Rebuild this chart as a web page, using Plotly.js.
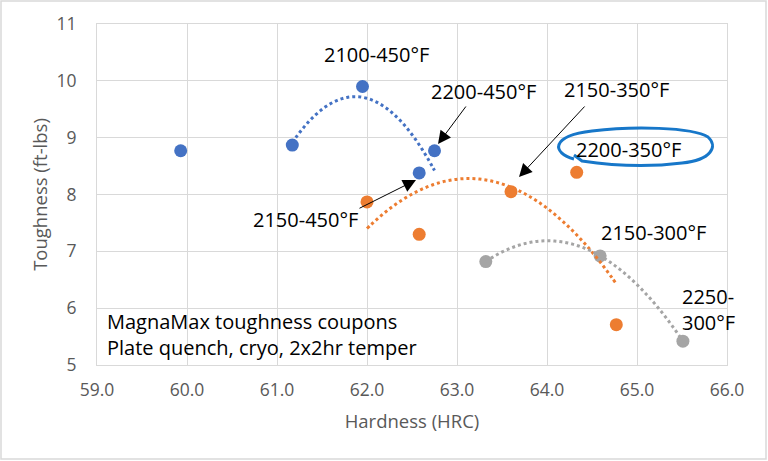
<!DOCTYPE html>
<html>
<head>
<meta charset="utf-8">
<script src="https://cdn.plot.ly/plotly-3.0.1.min.js"></script>
<style>
  html, body { margin: 0; padding: 0; background: #fff; }
  #chart { width: 768px; height: 461px; }
</style>
</head>
<body>
<div id="chart"></div>
<script>
// hardness (HRC) / toughness (ft-lbs)
const blueX = [61.17, 61.95, 62.58, 62.75];
const blueY = [8.87, 9.90, 8.38, 8.77];
const blueOutlierX = [59.93];
const blueOutlierY = [8.77];
const orangeX = [62.0, 62.58, 63.6, 64.33, 64.77];
const orangeY = [7.87, 7.30, 8.05, 8.39, 5.71];
const grayX = [63.32, 64.59, 65.51];
const grayY = [6.82, 6.92, 5.42];

const xTicks = [59, 60, 61, 62, 63, 64, 65, 66];
const xTickText = ['59.0', '60.0', '61.0', '62.0', '63.0', '64.0', '65.0', '66.0'];
const yTicks = [5, 6, 7, 8, 9, 10, 11];

const BLUE = '#4472c4';
const ORANGE = '#ed7d31';
const GRAY = '#a5a5a5';
const FONT = 'Open Sans, Noto Sans, sans-serif';

// plot area in pixels, used to place the hand drawn loop
const L = 97, T = 24, W = 630, H = 341;
const px = p => 59 + (p - L) / W * 7;
const py = p => 11 - (p - T) / H * 6;

// 2nd order least squares fit, like an Excel polynomial trendline
function polyfit2(xs, ys) {
  const m = xs.reduce((a, b) => a + b, 0) / xs.length;
  let s = [0, 0, 0, 0, 0], t = [0, 0, 0];
  xs.forEach((x, i) => {
    const u = x - m;
    for (let k = 0; k < 5; k++) s[k] += Math.pow(u, k);
    for (let k = 0; k < 3; k++) t[k] += Math.pow(u, k) * ys[i];
  });
  // solve 3x3 with Cramer
  const A = [[s[0], s[1], s[2]], [s[1], s[2], s[3]], [s[2], s[3], s[4]]];
  const det = M => M[0][0] * (M[1][1] * M[2][2] - M[1][2] * M[2][1])
    - M[0][1] * (M[1][0] * M[2][2] - M[1][2] * M[2][0])
    + M[0][2] * (M[1][0] * M[2][1] - M[1][1] * M[2][0]);
  const D = det(A);
  const coef = [0, 1, 2].map(j => det(A.map((row, r) => row.map((v, c) => (c === j ? t[r] : v)))) / D);
  return x => coef[0] + coef[1] * (x - m) + coef[2] * (x - m) * (x - m);
}

function trend(xs, ys, color) {
  const f = polyfit2(xs, ys);
  const lo = Math.min(...xs), hi = Math.max(...xs);
  const tx = [], ty = [];
  for (let i = 0; i <= 60; i++) {
    const x = lo + (hi - lo) * i / 60;
    tx.push(x);
    ty.push(f(x));
  }
  return {
    x: tx, y: ty, type: 'scatter', mode: 'lines', hoverinfo: 'skip',
    line: { color: color, width: 3, dash: 'dot', shape: 'spline' },
  };
}

const marker = color => ({ color: color, size: 13 });

const data = [
  { x: blueOutlierX, y: blueOutlierY, type: 'scatter', mode: 'markers', marker: marker(BLUE) },
  { x: blueX, y: blueY, type: 'scatter', mode: 'markers', marker: marker(BLUE) },
  { x: orangeX, y: orangeY, type: 'scatter', mode: 'markers', marker: marker(ORANGE) },
  { x: grayX, y: grayY, type: 'scatter', mode: 'markers', marker: marker(GRAY) },
  trend(blueX, blueY, BLUE),
  trend(orangeX, orangeY, ORANGE),
  trend(grayX, grayY, GRAY),
];

const label = (text, x, y, extra) => Object.assign({
  x: x, y: y, xref: 'x', yref: 'y', text: text, showarrow: false,
  font: { family: FONT, size: 20, color: '#000' },
}, extra || {});

const arrow = (x, y, ax, ay) => ({
  x: x, y: y, xref: 'x', yref: 'y', ax: ax, ay: ay, text: '',
  showarrow: true, arrowhead: 2, arrowsize: 2.6, arrowwidth: 1, arrowcolor: '#000',
});

const annotations = [
  label('2100-450°F', 62.11, 10.47),
  label('2200-450°F', 63.29, 9.81),
  label('2150-350°F', 64.77, 9.84),
  label('2200-350°F', 64.91, 8.79),
  label('2150-450°F', 61.32, 7.56),
  label('2150-300°F', 65.18, 7.33),
  label('2250-<br>300°F', 65.48, 5.97, { xanchor: 'left', align: 'left' }),
  label('MagnaMax toughness coupons<br>Plate quench, cryo, 2x2hr temper', 59.09, 5.53,
    { xanchor: 'left', align: 'left' }),
  arrow(px(438), py(144), 29, -39),
  arrow(px(519), py(177), 67, -72),
  arrow(px(416), py(180), -58, 29),
];

// hand drawn loop round 2200-350°F (pixel points turned into data units)
const loop = [
  ['M', 574, 159],
  ['C', 552, 153, 550, 136, 592, 131],
  ['C', 632, 126, 692, 127, 708, 137],
  ['C', 718, 146, 712, 160, 682, 163],
  ['C', 642, 168, 602, 164, 582, 161],
  ['L', 574, 155],
].map(seg => {
  const nums = seg.slice(1);
  const pts = [];
  for (let i = 0; i < nums.length; i += 2) pts.push(px(nums[i]) + ',' + py(nums[i + 1]));
  return seg[0] + pts.join(' ');
}).join(' ');

const axisFont = { family: FONT, size: 17.5, color: '#595959' };

const layout = {
  width: 768,
  height: 461,
  margin: { l: L, r: 768 - L - W, t: T, b: 461 - T - H },
  paper_bgcolor: '#fff',
  plot_bgcolor: '#fff',
  showlegend: false,
  font: { family: FONT, color: '#595959' },
  xaxis: {
    range: [59, 66], tickvals: xTicks, ticktext: xTickText,
    showgrid: true, gridcolor: '#d9d9d9', gridwidth: 1, zeroline: false,
    showline: true, linecolor: '#d9d9d9', mirror: true,
    ticks: '', ticklabelstandoff: 9,
    tickfont: axisFont,
    title: { text: 'Hardness (HRC)', standoff: 15, font: { family: FONT, size: 18.5, color: '#595959' } },
  },
  yaxis: {
    range: [5, 11], tickvals: yTicks,
    showgrid: true, gridcolor: '#d9d9d9', gridwidth: 1, zeroline: false,
    showline: true, linecolor: '#d9d9d9', mirror: true,
    ticks: '', ticklabelstandoff: 16,
    tickfont: axisFont,
    title: { text: 'Toughness (ft-lbs)', standoff: 4, font: { family: FONT, size: 18.5, color: '#595959' } },
  },
  annotations: annotations,
  shapes: [
    { type: 'path', xref: 'x', yref: 'y', path: loop, line: { color: '#1777c9', width: 3 } },
    {
      type: 'rect', xref: 'paper', yref: 'paper',
      x0: (1 - L) / W, x1: (766 - L) / W, y0: (T + H - 459) / H, y1: (T + H - 1) / H,
      line: { color: '#d9d9d9', width: 1.5 },
    },
  ],
};

Plotly.newPlot('chart', data, layout, { displayModeBar: false, staticPlot: true });
</script>
</body>
</html>
